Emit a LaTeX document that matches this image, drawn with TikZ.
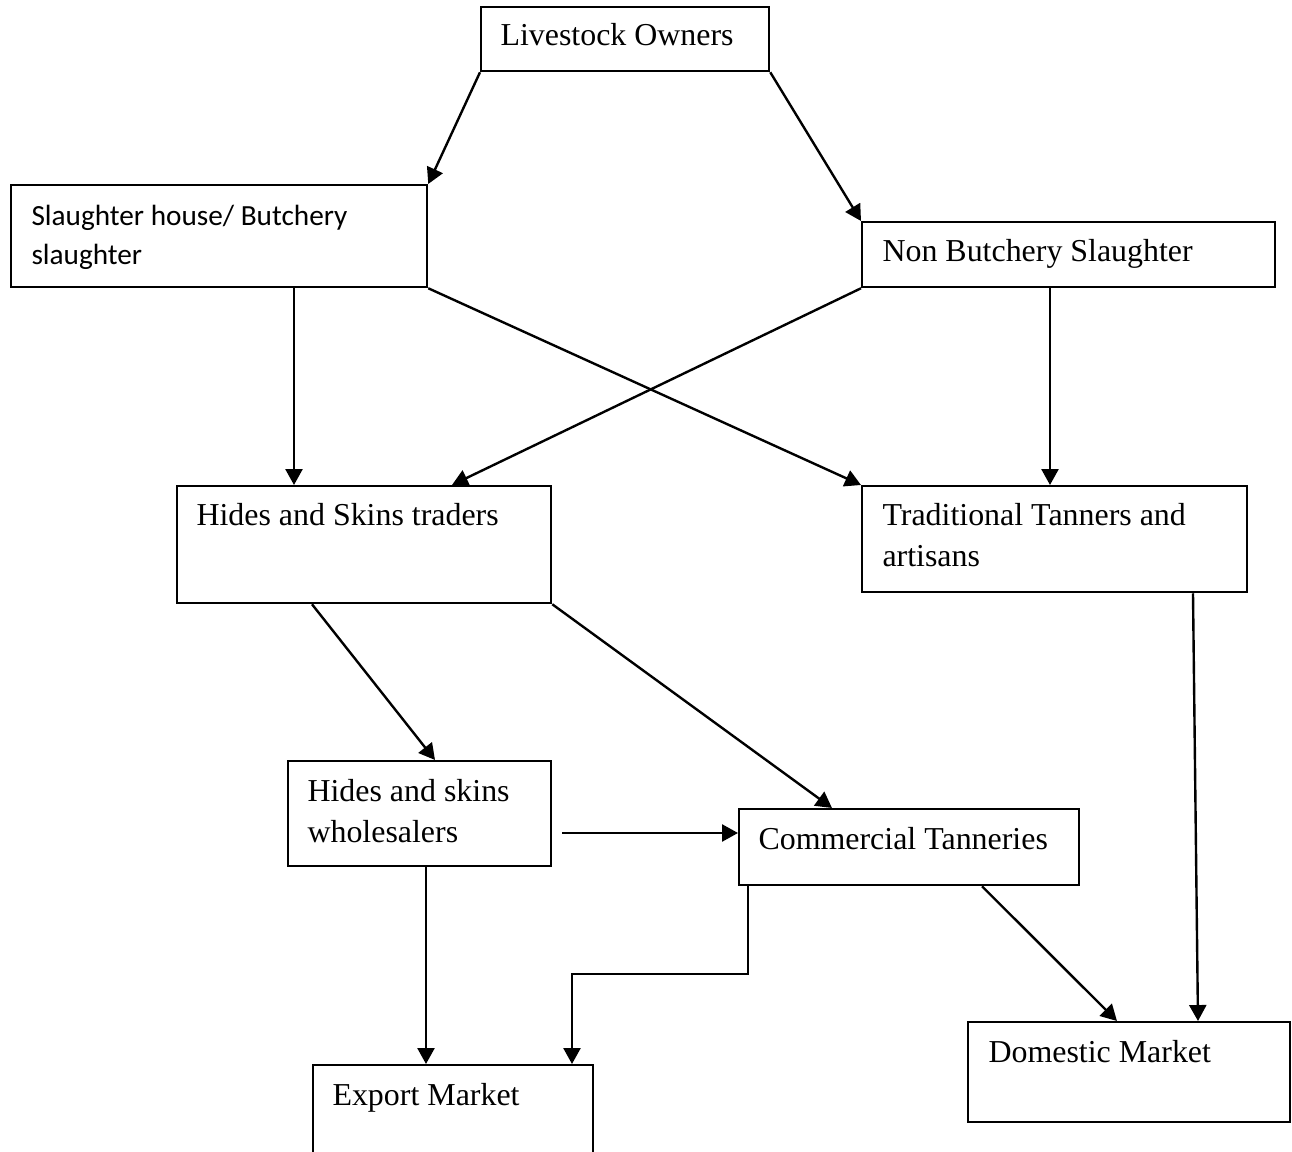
\documentclass[tikz,border=0pt]{standalone}
\usepackage{fontspec}
\setmainfont{Liberation Serif}
\newfontfamily\calibrifont{Carlito}
\usepackage{tikz}
\usetikzlibrary{calc}
\usetikzlibrary{arrows.meta}
\tikzset{
    box/.style={draw, line width=0.85pt, rectangle, inner sep=0pt, anchor=north west},
    lbl/.style={anchor=base west, inner sep=0pt, align=left, font=\fontsize{12}{15.5}\selectfont},
    flow/.style={line width=0.9pt, -{Triangle[length=6pt,width=6.4pt]}}
}
\begin{document}
\begin{tikzpicture}[x=0.376pt, y=-0.376pt]
\useasboundingbox (0,0) rectangle (1292,1152);
\foreach \p/\x/\y/\w/\h in {owners/480/6/288/64, slaughter/10/184/416/102, nonbutch/861/221/413/65, traders/176/485/374/117, tanners/861/485/385/106, whole/287/760/263/105, tanneries/738/808/340/76, export/312/1064/280/110, domestic/967/1021/322/100}{
    \node[box, minimum width=\w*0.376pt, minimum height=\h*0.376pt] (\p) at (\x,\y) {};
}
% text sits on the last line's baseline
\foreach \p/\x/\y/\t in {owners/500/46/{Livestock Owners}, nonbutch/882/262/{Non Butchery Slaughter}, traders/196/526/{Hides and Skins traders}, tanners/882/567/{Traditional Tanners and\\artisans}, whole/307/843/{Hides and skins\\wholesalers}, tanneries/758/850/{Commercial Tanneries}, export/332/1105/{Export Market}, domestic/988/1063/{Domestic Market}}{
    \node[lbl] (\p-t) at (\x,\y) {\t};
}
\node[lbl, font=\calibrifont\fontsize{11}{15}\selectfont] (slaughter-t) at (31,265) {Slaughter house/ Butchery\\slaughter};
% flows
\draw[flow] (owners.south west) -- (slaughter.north east);
\draw[flow] (owners.south east) -- (nonbutch.north west);
\draw[flow] ($(slaughter.south west)+(284,0)$) coordinate (s1) -- (s1 |- traders.north);
\draw[flow] (slaughter.south east) -- (tanners.north west);
\draw[flow] (nonbutch.south west) -- ($(traders.north west)+(276,0)$);
\draw[flow] ($(nonbutch.south west)+(189,0)$) coordinate (n1) -- (n1 |- tanners.north);
\draw[flow] ($(traders.south west)+(136,0)$) -- ($(whole.north west)+(148,0)$);
\draw[flow] (traders.south east) -- ($(tanneries.north west)+(94,0)$);
\draw[flow] ($(tanners.south west)+(332,0)$) -- ($(domestic.north west)+(231,0)$);
\draw[flow] ($(whole.north east)+(10,73)$) coordinate (w1) -- (w1 -| tanneries.west);
\draw[flow] ($(whole.south west)+(139,0)$) coordinate (w2) -- (w2 |- export.north);
\draw[flow] ($(tanneries.south west)+(10,0)$) -- ++(0,88) -| ($(export.north west)+(260,0)$);
\draw[flow] ($(tanneries.south west)+(244,0)$) -- ($(domestic.north west)+(150,0)$);
\end{tikzpicture}
\end{document}
